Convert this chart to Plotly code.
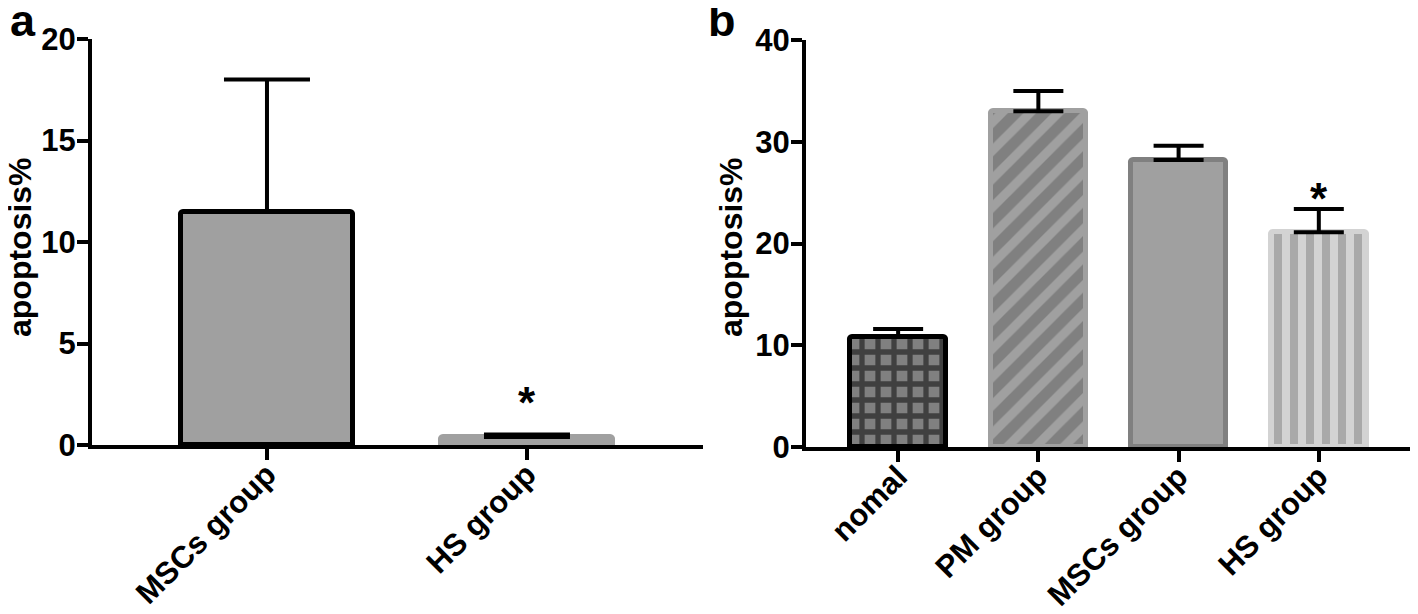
import plotly.graph_objects as go

# ---------- data ----------
cats_a = ["MSCs group", "HS group"]
mean_a = [11.5, 0.4]
err_a = [6.5, 0.12]

cats_b = ["nomal", "PM group", "MSCs group", "HS group"]
mean_b = [10.8, 33.0, 28.2, 21.1]
err_b = [0.8, 2.0, 1.4, 2.3]

yticks_a = [0, 5, 10, 15, 20]
yticks_b = [0, 10, 20, 30, 40]
ytitle = "apoptosis%"

FONT = "Liberation Sans, Arial, Helvetica, sans-serif"
# page body has an 8px margin, so the figure is drawn 8px smaller
OFF = 8
W, H = 1418 - OFF, 614 - OFF


def px_x(p):
    return (p - OFF) / W


def px_y(p):
    return (H - (p - OFF)) / H


fig = go.Figure()

xa = list(range(len(cats_a)))
xb = list(range(len(cats_b)))

# Panel a bars
fig.add_trace(go.Bar(
    x=xa, y=mean_a, width=0.66,
    marker=dict(color=["#a0a0a0", "#a0a0a0"],
                line=dict(color=["#000000", "#a0a0a0"], width=5),
                cornerradius=3),
    error_y=dict(type="data", symmetric=False, array=err_a,
                 arrayminus=[0] * len(err_a), color="black",
                 thickness=4, width=43),
    xaxis="x", yaxis="y", showlegend=False,
))

# Panel b bars, one trace each for different patterns
styles_b = [
    dict(color="#808080", line="#000000",
         pattern=dict(shape="+", fgcolor="#000000", bgcolor="#808080", size=16, solidity=0.55)),
    dict(color="#a0a0a0", line="#a0a0a0",
         pattern=dict(shape="/", fgcolor="#606060", bgcolor="#a0a0a0", size=20, solidity=0.55)),
    dict(color="#a0a0a0", line="#808080", pattern=None),
    dict(color="#d3d3d3", line="#d3d3d3",
         pattern=dict(shape="|", fgcolor="#808080", bgcolor="#d3d3d3", size=16, solidity=0.5)),
]
for i, st in enumerate(styles_b):
    mk = dict(color=st["color"], line=dict(color=st["line"], width=5), cornerradius=3)
    if st["pattern"]:
        mk["pattern"] = st["pattern"]
    fig.add_trace(go.Bar(
        x=[xb[i]], y=[mean_b[i]], width=0.68,
        marker=mk,
        error_y=dict(type="data", symmetric=False, array=[err_b[i]],
                     arrayminus=[0], color="black", thickness=4, width=25),
        xaxis="x2", yaxis="y2", showlegend=False,
    ))

# significance stars
fig.add_annotation(x=1, y=mean_a[1] + err_a[1], xref="x", yref="y", text="*",
                   showarrow=False, yanchor="bottom", yshift=5,
                   font=dict(family=FONT, size=44, color="black", weight="bold"))
fig.add_annotation(x=3, y=mean_b[3] + err_b[3], xref="x2", yref="y2", text="*",
                   showarrow=False, yanchor="bottom", yshift=-16,
                   font=dict(family=FONT, size=44, color="black", weight="bold"))

# panel letters
fig.add_annotation(x=0, y=1, xref="paper", yref="paper", text="a",
                   showarrow=False, xanchor="left", yanchor="top", yshift=15,
                   font=dict(family=FONT, size=45, color="black", weight="bold"))
fig.add_annotation(x=px_x(706), y=1, xref="paper", yref="paper", text="b",
                   showarrow=False, xanchor="left", yanchor="top", yshift=15,
                   font=dict(family=FONT, size=45, color="black", weight="bold"))

# y-axis titles (as rotated annotations so they can sit near the left edge)
titlefont = dict(family=FONT, size=32, color="black", weight="bold")
fig.add_annotation(x=px_x(20), y=px_y(247), xref="paper", yref="paper", text=ytitle,
                   textangle=-90, showarrow=False, xanchor="center", yanchor="middle",
                   font=titlefont)
fig.add_annotation(x=px_x(731), y=px_y(247), xref="paper", yref="paper", text=ytitle,
                   textangle=-90, showarrow=False, xanchor="center", yanchor="middle",
                   font=titlefont)

xtickfont = dict(family=FONT, size=31, color="black", weight="bold")
ytickfont = dict(family=FONT, size=31, color="black", weight="bold")

common_x = dict(showline=True, linecolor="black", linewidth=4, ticks="outside",
                ticklen=11, tickwidth=4, tickcolor="black", tickangle=-45,
                tickfont=xtickfont, showgrid=False, zeroline=False, automargin=False,
                ticklabelstandoff=-16)
common_y = dict(showline=True, linecolor="black", linewidth=4, ticks="outside",
                ticklen=11, tickwidth=4, tickcolor="black", tickfont=ytickfont,
                showgrid=False, zeroline=False, automargin=False, ticklabelstandoff=-5)

fig.update_layout(
    width=W, height=H,
    margin=dict(l=0, r=0, t=0, b=0, autoexpand=False),
    paper_bgcolor="white", plot_bgcolor="white",
    bargap=0,
    xaxis=dict(domain=[px_x(92), px_x(703)], range=[-0.673, 1.677],
               tickvals=xa, ticktext=cats_a, anchor="y", **common_x),
    yaxis=dict(domain=[px_y(445), px_y(39)], range=[0, 20],
               tickvals=yticks_a, anchor="x", **common_y),
    xaxis2=dict(domain=[px_x(806), px_x(1416)], range=[-0.657, 3.693],
                tickvals=xb, ticktext=cats_b, anchor="y2", **common_x),
    yaxis2=dict(domain=[px_y(447), px_y(40)], range=[0, 40],
                tickvals=yticks_b, anchor="x2", **common_y),
)

fig.write_html("out.html")
